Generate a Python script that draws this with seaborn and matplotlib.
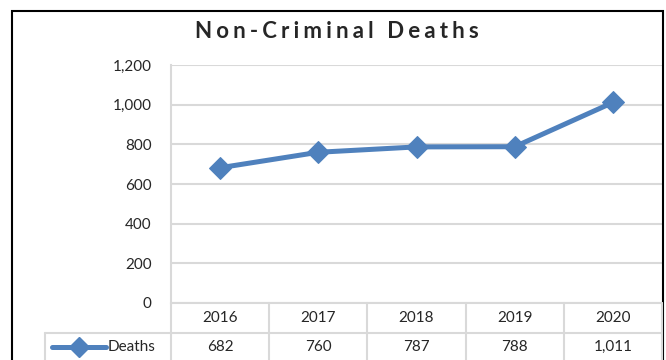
import numpy as np
import pandas as pd
import matplotlib
matplotlib.use('Agg')
import matplotlib.pyplot as plt
import matplotlib.transforms as mtransforms
from matplotlib.lines import Line2D
from matplotlib.patches import Rectangle
import seaborn as sns

years = ['2016', '2017', '2018', '2019', '2020']
deaths = [682, 760, 787, 788, 1011]
yticks = [0, 200, 400, 600, 800, 1000, 1200]
title = 'Non-Criminal Deaths'
series_name = 'Deaths'

df = pd.DataFrame({'Year': years, 'Deaths': deaths})

sns.set_style('white')
plt.rcParams['font.family'] = ['Lato', 'DejaVu Sans']

blue = '#4f81bd'
grid = '#d9d9d9'
W, H = 666, 360

fig = plt.figure(figsize=(6.66, 3.6), dpi=100)
ax = fig.add_axes([171 / W, (H - 303) / H, 491 / W, 238 / H])

sns.lineplot(data=df, x='Year', y='Deaths', ax=ax, color=blue, lw=3.6,
             marker='D', markersize=11, markeredgecolor=blue, sort=False)

ax.set_xlim(-0.5, len(years) - 0.5)
ax.set_ylim(0, 1200)
ax.set_yticks(yticks)
ax.set_yticklabels([f'{v:,}' for v in yticks], fontsize=11)
ax.set_xticks([])
ax.set_xlabel('')
ax.set_ylabel('')
ax.tick_params(axis='y', length=0, pad=14)
ax.yaxis.grid(True, color=grid, lw=1.5)
ax.set_axisbelow(True)
for s in ['top', 'right', 'bottom']:
    ax.spines[s].set_visible(False)
ax.spines['left'].set_color(grid)
ax.spines['left'].set_linewidth(1.5)

# data table under the plot
tr = mtransforms.blended_transform_factory(ax.transData, fig.transFigure)
y0 = (H - 303) / H
y1 = (H - 333) / H
ybot = -0.05
fig.add_artist(Line2D([-0.5, len(years) - 0.5], [y0, y0], transform=tr, color=grid, lw=1.5))
fig.add_artist(Line2D([45 / W, 662 / W], [y1, y1], transform=fig.transFigure, color=grid, lw=1.5))
for i in range(len(years) + 1):
    fig.add_artist(Line2D([i - 0.5, i - 0.5], [y0, ybot], transform=tr, color=grid, lw=1.5))
fig.add_artist(Line2D([45 / W, 45 / W], [y1, ybot], transform=fig.transFigure, color=grid, lw=1.5))

for i, (yr, v) in enumerate(zip(years, deaths)):
    ax.text(i, (H - 318) / H, yr, transform=tr, ha='center', va='center', fontsize=11)
    ax.text(i, (H - 347) / H, f'{v:,}', transform=tr, ha='center', va='center', fontsize=11)

# legend key in table
fig.add_artist(Line2D([52 / W, 106 / W], [(H - 347) / H] * 2, transform=fig.transFigure,
                      color=blue, lw=3.6, solid_capstyle='round'))
fig.add_artist(Line2D([79 / W], [(H - 347) / H], transform=fig.transFigure, color=blue,
                      marker='D', markersize=10, markeredgecolor=blue))
fig.text(108 / W, (H - 347) / H, series_name, ha='left', va='center', fontsize=11)

# title, letter-spaced
fig.text(337 / W, (H - 31) / H, '\u2009\u200a'.join(title), ha='center', va='center',
         fontsize=16, fontweight='bold', family=['Lato', 'DejaVu Sans'])

# outer chart border
fig.add_artist(Rectangle((12 / W, -0.1), (663 - 12) / W, (H - 11) / H + 0.1,
                         transform=fig.transFigure, fill=False, ec='black', lw=1.5))

fig.savefig('out.png', dpi=100)
